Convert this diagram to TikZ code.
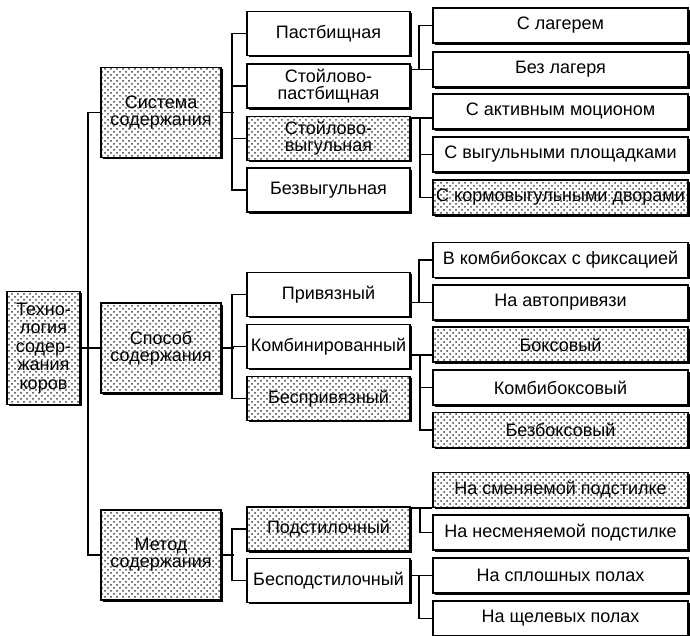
\documentclass[tikz,border=0pt]{standalone}
\usepackage{fontspec}
\setmainfont{Liberation Sans}
\usetikzlibrary{patterns,shadows}

\begin{document}
\begin{tikzpicture}[x=0.5pt, y=-0.5pt, line width=0.9pt,
  box/.style={draw, rectangle, fill=white, inner sep=1pt, align=center,
    font=\fontsize{9}{8.6}\selectfont,
    drop shadow={shadow xshift=0.9pt, shadow yshift=-0.9pt, opacity=1, fill=black}},
  dot box/.style={box, preaction={fill=white}, pattern=crosshatch dots,
    pattern color=black!75},
  level one/.style={minimum width=60pt, minimum height=45pt},
  level two/.style={minimum width=81.5pt, minimum height=22pt},
  level three/.style={minimum width=127.5pt, minimum height=17.5pt}]

\useasboundingbox (0,0) rectangle (690,636);

\node[dot box, minimum width=36.5pt, minimum height=56.5pt,
      font=\fontsize{9}{9.2}\selectfont](0) at (43.5,348)
      {Техно-\\логия\\содер-\\жания\\коров};

\node[dot box, level one](1) at (161,112.5) {Система\\содержания};
\node[dot box, level one](2) at (161,348) {Способ\\содержания};
\node[dot box, level one](3) at (161,555) {Метод\\содержания};

\node[box, level two](11) at (328.5,33.5) {Пастбищная};
\node[box, level two](12) at (328.5,86) {Стойлово-\\пастбищная};
\node[dot box, level two](13) at (328.5,138.5) {Стойлово-\\выгульная};
\node[box, level two](14) at (328.5,190) {Безвыгульная};
\node[box, level two](21) at (328.5,294.5) {Привязный};
\node[box, level two](22) at (328.5,346.5) {Комбинированный};
\node[dot box, level two](23) at (328.5,398.5) {Беспривязный};
\node[dot box, level two](31) at (328.5,529) {Подстилочный};
\node[box, level two](32) at (328.5,580.5) {Бесподстилочный};

\node[box, level three](121) at (560.5,25.5) {С лагерем};
\node[box, level three](122) at (560.5,69.5) {Без лагеря};
\node[box, level three](131) at (560.5,111.5) {С активным моционом};
\node[box, level three](132) at (560.5,154.5) {С выгульными площадками};
\node[dot box, level three](133) at (560.5,197.5) {С кормовыгульными дворами};
\node[box, level three](211) at (560.5,260) {В комбибоксах с фиксацией};
\node[box, level three](212) at (560.5,302.5) {На автопривязи};
\node[dot box, level three](221) at (560.5,344.5) {Боксовый};
\node[box, level three](222) at (560.5,387.5) {Комбибоксовый};
\node[dot box, level three](223) at (560.5,430) {Безбоксовый};
\node[dot box, level three](311) at (560.5,490) {На сменяемой подстилке};
\node[box, level three](312) at (560.5,532.5) {На несменяемой подстилке};
\node[box, level three](321) at (560.5,575.5) {На сплошных полах};
\node[box, level three](322) at (560.5,618.5) {На щелевых полах};

% main spine
\draw (0) -- (2);
\draw (1.west) -- ++(-12,0) |- (3.west);

% second level
\draw (1.east) -- ++(12,0);
\draw (11.west) -- ++(-14,0) |- (14.west);
\draw (12.west) -- ++(-14,0);
\draw (13.west) -- ++(-14,0);
\draw (2.east) -- ++(12,0);
\draw (21.west) -- ++(-14,0) |- (23.west);
\draw (22.west) -- ++(-14,0);
\draw (3.east) -- ++(12,0);
\draw (31.west) -- ++(-14,0) |- (32.west);

% third level
\draw (12.east |- 122.west) -- (122.west);
\draw (121.west) -- ++(-13,0) |- (122.west);

\coordinate (j13) at (420,118);
\draw (13.east |- j13) -- (j13 -| 131.west);
\draw (j13) |- (133.west);
\draw (132.west) -- ++(-13,0);

\draw (21.east |- 212.west) -- (212.west);
\draw (211.west) -- ++(-13,0) |- (212.west);

\coordinate (j22) at (420,355);
\draw (22.east |- j22) -- (j22 -| 221.west);
\draw (j22) |- (223.west);
\draw (222.west) -- ++(-13,0);

\coordinate (j31) at (420,508);
\draw (31.east |- j31) -- (j31 -| 311.west);
\draw (j31) |- (312.west);

\draw (32.east |- 321.west) -- (321.west);
\draw (322.west) -- ++(-13,0) |- (321.west);

\end{tikzpicture}
\end{document}
